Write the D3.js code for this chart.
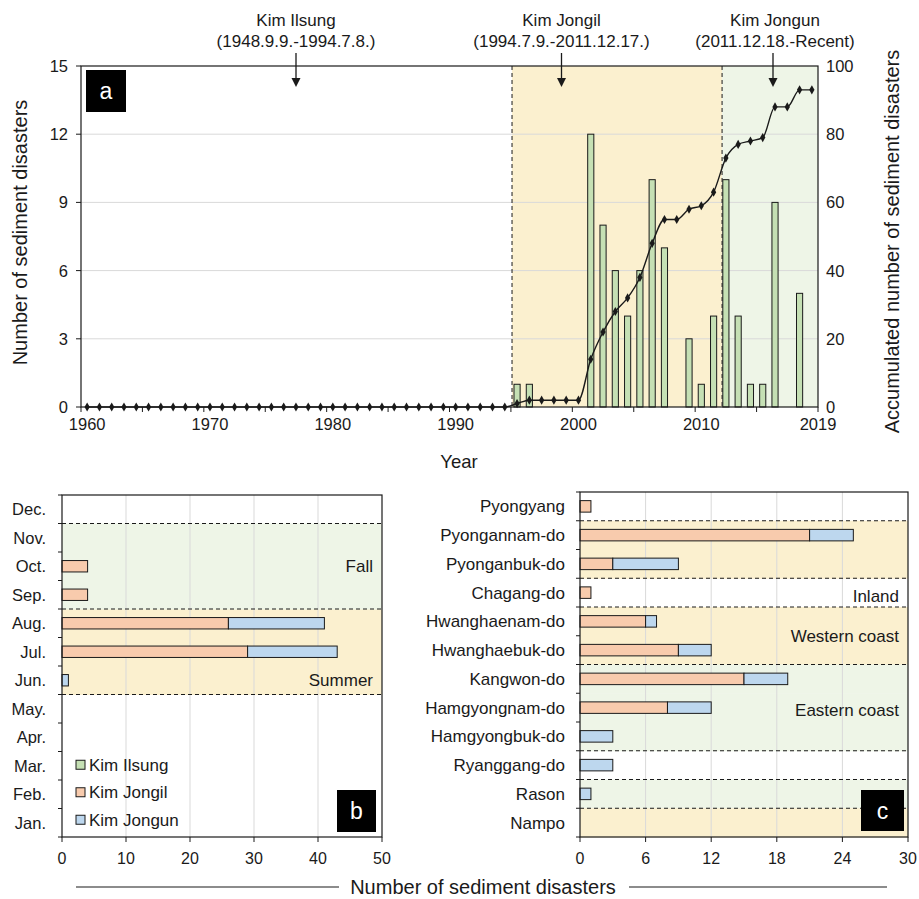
<!DOCTYPE html>
<html><head><meta charset="utf-8">
<script src="https://cdn.jsdelivr.net/npm/d3@7"></script>
<style>
body{margin:0;background:#fff;}
svg text{font-family:"Liberation Sans",Arial,sans-serif;fill:#1a1a1a;}
</style></head><body>
<svg id="chart" width="919" height="899"></svg>
<script>
// ---------- DATA ----------
const years = d3.range(1960, 2020);
const yearlyCounts = [0,0,0,0,0,0,0,0,0,0, 0,0,0,0,0,0,0,0,0,0, 0,0,0,0,0,0,0,0,0,0, 0,0,0,0,0,
  1,1,0,0,0,0,12,8,6,4,6,10,7,0,3,1,4,10,4,1,1,9,0,5,0];
const accumulated = [0,0,0,0,0,0,0,0,0,0, 0,0,0,0,0,0,0,0,0,0, 0,0,0,0,0,0,0,0,0,0, 0,0,0,0,0,
  1,2,2,2,2,2,14,22,28,32,38,48,55,55,58,59,63,73,77,78,79,88,88,93,93];
const yearTickLabels = [1960,1970,1980,1990,2000,2010,2019];
const leftTicks = [0,3,6,9,12,15];
const rightTicks = [0,20,40,60,80,100];
const regimes = ["Kim Ilsung","Kim Jongil","Kim Jongun"];
const regimePeriods = ["(1948.9.9.-1994.7.8.)","(1994.7.9.-2011.12.17.)","(2011.12.18.-Recent)"];
const regimeBounds = [1994.59, 2011.69];

const months = ["Jan.","Feb.","Mar.","Apr.","May.","Jun.","Jul.","Aug.","Sep.","Oct.","Nov.","Dec."];
const monthIlsung = [0,0,0,0,0,0,0,0,0,0,0,0];
const monthJongil = [0,0,0,0,0,0,29,26,4,4,0,0];
const monthJongun = [0,0,0,0,0,1,14,15,0,0,0,0];
const monthSeason = ["","","","","","Summer","Summer","Summer","Fall","Fall","Fall",""];
const monthTicks = [0,10,20,30,40,50];

const provinces = ["Pyongyang","Pyongannam-do","Pyonganbuk-do","Chagang-do","Hwanghaenam-do","Hwanghaebuk-do",
  "Kangwon-do","Hamgyongnam-do","Hamgyongbuk-do","Ryanggang-do","Rason","Nampo"];
const provJongil = [1,21,3,1,6,9,15,8,0,0,0,0];
const provJongun = [0,4,6,0,1,3,4,4,3,3,1,0];
const provRegion = ["City","Western","Western","Inland","Western","Western","Eastern","Eastern","Eastern","Inland2","Eastern","Western"];
const provTicks = [0,6,12,18,24,30];

// ---------- STYLE ----------
const C = {ilsung:"#c5e0b4", jongil:"#f8cbad", jongun:"#bdd7ee",
  yellow:"#fbf0cf", green:"#eef5e7", grid:"#d9d9d9", ink:"#1a1a1a"};
const svg = d3.select("#chart");

// ============ PANEL A ============
const A = {l:81, r:818, t:66, b:407};
const xA = d3.scaleBand().domain(years).range([A.l, A.r]);
const step = xA.step();
const xDate = v => A.l + (v - 1960 + 0.5) * step;
const yL = d3.scaleLinear().domain([0,15]).range([A.b, A.t]);
const yR = d3.scaleLinear().domain([0,100]).range([A.b, A.t]);

const gA = svg.append("g");
gA.append("rect").attr("x", xDate(regimeBounds[0])).attr("y", A.t)
  .attr("width", xDate(regimeBounds[1]) - xDate(regimeBounds[0])).attr("height", A.b - A.t).attr("fill", C.yellow);
gA.append("rect").attr("x", xDate(regimeBounds[1])).attr("y", A.t)
  .attr("width", A.r - xDate(regimeBounds[1])).attr("height", A.b - A.t).attr("fill", C.green);
gA.selectAll(".g").data(leftTicks.slice(1,-1)).join("line")
  .attr("x1", A.l).attr("x2", A.r).attr("y1", d => yL(d)).attr("y2", d => yL(d))
  .attr("stroke", C.grid).attr("stroke-width", 1);
gA.selectAll(".rb").data(regimeBounds).join("line")
  .attr("x1", d => xDate(d)).attr("x2", d => xDate(d)).attr("y1", A.t).attr("y2", A.b)
  .attr("stroke", C.ink).attr("stroke-width", 1).attr("stroke-dasharray", "4,3");
const bw = step * 0.5;
gA.selectAll(".bar").data(years.map((y,i)=>({y, v:yearlyCounts[i]})).filter(d=>d.v>0)).join("rect")
  .attr("x", d => xA(d.y) + (step - bw)/2).attr("width", bw)
  .attr("y", d => yL(d.v)).attr("height", d => A.b - yL(d.v))
  .attr("fill", C.ilsung).attr("stroke", C.ink).attr("stroke-width", 1);
const line = d3.line().x((d,i) => xA(years[i]) + step/2).y(d => yR(d)).curve(d3.curveMonotoneX);
gA.append("path").attr("d", line(accumulated)).attr("fill","none").attr("stroke", C.ink).attr("stroke-width", 1.4);
gA.selectAll(".pt").data(accumulated).join("path")
  .attr("d", d3.symbol().type(d3.symbolDiamond).size(24))
  .attr("transform", (d,i) => `translate(${xA(years[i]) + step/2},${yR(d)})`).attr("fill", C.ink);
gA.append("rect").attr("x", A.l).attr("y", A.t).attr("width", A.r - A.l).attr("height", A.b - A.t)
  .attr("fill","none").attr("stroke", C.ink).attr("stroke-width", 1.2);
leftTicks.forEach(t => {
  gA.append("line").attr("x1", A.l - 5).attr("x2", A.l).attr("y1", yL(t)).attr("y2", yL(t)).attr("stroke", C.ink);
  gA.append("text").attr("x", A.l - 13).attr("y", yL(t) + 6).attr("text-anchor","end").attr("font-size", 16.5).text(t);
});
rightTicks.forEach(t => {
  gA.append("text").attr("x", A.r + 8).attr("y", yR(t) + 6).attr("text-anchor","start").attr("font-size", 16.5).text(t);
});
d3.range(0, 61, 5).forEach(i => {
  const x = A.l + i * step;
  gA.append("line").attr("x1", x).attr("x2", x).attr("y1", A.b).attr("y2", A.b + 5).attr("stroke", C.ink);
});
yearTickLabels.forEach((y, i) => {
  const x = i === yearTickLabels.length - 1 ? A.r : xA(y) + step/2;
  gA.append("text").attr("x", x).attr("y", A.b + 23).attr("text-anchor","middle").attr("font-size", 16.5).text(y);
});
gA.append("text").attr("x", 459).attr("y", 468).attr("text-anchor","middle").attr("font-size", 18.5).text("Year");
gA.append("text").attr("transform", `translate(27,${(A.t+A.b)/2 - 4}) rotate(-90)`).attr("text-anchor","middle")
  .attr("font-size", 20).text("Number of sediment disasters");
gA.append("text").attr("transform", `translate(899,${(A.t+A.b)/2 + 5}) rotate(-90)`).attr("text-anchor","middle")
  .attr("font-size", 20).text("Accumulated number of sediment disasters");
const arrowX = [296, 561.5, 773];
const labelX = [296, 561.5, 775];
regimes.forEach((r,i) => {
  gA.append("text").attr("x", labelX[i]).attr("y", 26).attr("text-anchor","middle")
    .attr("font-size", 17).text(r);
  gA.append("text").attr("x", labelX[i]).attr("y", 47).attr("text-anchor","middle")
    .attr("font-size", 17).text(regimePeriods[i]);
  gA.append("line").attr("x1", arrowX[i]).attr("x2", arrowX[i]).attr("y1", 53).attr("y2", 80).attr("stroke", C.ink).attr("stroke-width", 1.3);
  gA.append("path").attr("d", `M${arrowX[i]-4.5},${78} L${arrowX[i]+4.5},${78} L${arrowX[i]},${87} Z`).attr("fill", C.ink);
});
function panelLabel(g, x, y, w, h, t) {
  g.append("rect").attr("x", x).attr("y", y).attr("width", w).attr("height", h).attr("fill", "#000");
  g.append("text").attr("x", x + w/2).attr("y", y + h/2 + 8).attr("text-anchor","middle")
    .attr("font-size", 23).style("fill","#fff").text(t);
}
panelLabel(gA, 86, 70, 40, 42, "a");

// ============ PANEL B ============
const B = {l:62, r:382, t:495, b:837};
const monthsTop = months.slice().reverse();
const yB = d3.scaleBand().domain(monthsTop).range([B.t, B.b]);
const xB = d3.scaleLinear().domain([0,50]).range([B.l, B.r]);
const gB = svg.append("g");
months.forEach((m,i) => {
  const s = monthSeason[i];
  if (!s) return;
  gB.append("rect").attr("x", B.l).attr("y", yB(m)).attr("width", B.r - B.l).attr("height", yB.step() + 0.5)
    .attr("fill", s === "Summer" ? C.yellow : C.green);
});
gB.selectAll(".g").data(monthTicks.slice(1,-1)).join("line")
  .attr("x1", d => xB(d)).attr("x2", d => xB(d)).attr("y1", B.t).attr("y2", B.b).attr("stroke", C.grid);
for (let i = 1; i < months.length; i++) {
  if (monthSeason[i] !== monthSeason[i-1]) {
    const y = yB(months[i-1]);
    gB.append("line").attr("x1", B.l).attr("x2", B.r).attr("y1", y).attr("y2", y)
      .attr("stroke", C.ink).attr("stroke-dasharray","4,3");
  }
}
const bhB = yB.bandwidth() * 0.4;
months.forEach((m,i) => {
  let x0 = 0;
  [[monthIlsung[i], C.ilsung],[monthJongil[i], C.jongil],[monthJongun[i], C.jongun]].forEach(([v,c]) => {
    if (v > 0) {
      gB.append("rect").attr("x", xB(x0)).attr("width", xB(x0+v) - xB(x0))
        .attr("y", yB(m) + (yB.bandwidth() - bhB)/2).attr("height", bhB)
        .attr("fill", c).attr("stroke", C.ink).attr("stroke-width", 1);
      x0 += v;
    }
  });
});
gB.append("rect").attr("x", B.l).attr("y", B.t).attr("width", B.r - B.l).attr("height", B.b - B.t)
  .attr("fill","none").attr("stroke", C.ink).attr("stroke-width", 1.2);
d3.range(0, 13).forEach(i => {
  const y = B.t + i * yB.step();
  gB.append("line").attr("x1", B.l - 4).attr("x2", B.l).attr("y1", y).attr("y2", y).attr("stroke", C.ink);
});
monthsTop.forEach(m => {
  gB.append("text").attr("x", 46).attr("y", yB(m) + yB.bandwidth()/2 + 6).attr("text-anchor","end")
    .attr("font-size", 16.5).text(m);
});
monthTicks.forEach(t => {
  gB.append("line").attr("x1", xB(t)).attr("x2", xB(t)).attr("y1", B.b).attr("y2", B.b + 5).attr("stroke", C.ink);
  gB.append("text").attr("x", xB(t)).attr("y", B.b + 27).attr("text-anchor","middle").attr("font-size", 16).text(t);
});
gB.append("text").attr("x", 373).attr("y", yB("Oct.") + yB.bandwidth()/2 + 6).attr("text-anchor","end").attr("font-size", 17).text("Fall");
gB.append("text").attr("x", 373).attr("y", yB("Jun.") + yB.bandwidth()/2 + 6).attr("text-anchor","end").attr("font-size", 17).text("Summer");
const legendItems = [["Kim Ilsung", C.ilsung],["Kim Jongil", C.jongil],["Kim Jongun", C.jongun]];
legendItems.forEach(([n,c],i) => {
  const y = yB("Mar.") + yB.bandwidth()/2 + i * 27.5 - 1;
  gB.append("rect").attr("x", 76).attr("y", y - 4.5).attr("width", 9).attr("height", 9)
    .attr("fill", c).attr("stroke", C.ink).attr("stroke-width", 1);
  gB.append("text").attr("x", 89).attr("y", y + 6).attr("font-size", 17).text(n);
});
panelLabel(gB, 337, 790, 39, 42, "b");

// ============ PANEL C ============
const P = {l:580, r:908, t:492, b:837};
const yC = d3.scaleBand().domain(provinces).range([P.t, P.b]);
const xC = d3.scaleLinear().domain([0,30]).range([P.l, P.r]);
const gC = svg.append("g");
const regionFill = {Western: C.yellow, Eastern: C.green};
provinces.forEach((p,i) => {
  const f = regionFill[provRegion[i]];
  if (f) gC.append("rect").attr("x", P.l).attr("y", yC(p)).attr("width", P.r - P.l).attr("height", yC.step() + 0.5).attr("fill", f);
});
gC.selectAll(".g").data(provTicks.slice(1,-1)).join("line")
  .attr("x1", d => xC(d)).attr("x2", d => xC(d)).attr("y1", P.t).attr("y2", P.b).attr("stroke", C.grid);
for (let i = 1; i < provinces.length; i++) {
  if (provRegion[i] !== provRegion[i-1]) {
    const y = yC(provinces[i]);
    gC.append("line").attr("x1", P.l).attr("x2", P.r).attr("y1", y).attr("y2", y)
      .attr("stroke", C.ink).attr("stroke-dasharray","4,3");
  }
}
const bhC = yC.bandwidth() * 0.4;
provinces.forEach((p,i) => {
  let x0 = 0;
  [[provJongil[i], C.jongil],[provJongun[i], C.jongun]].forEach(([v,c]) => {
    if (v > 0) {
      gC.append("rect").attr("x", xC(x0)).attr("width", xC(x0+v) - xC(x0))
        .attr("y", yC(p) + (yC.bandwidth() - bhC)/2).attr("height", bhC)
        .attr("fill", c).attr("stroke", C.ink).attr("stroke-width", 1);
      x0 += v;
    }
  });
});
gC.append("rect").attr("x", P.l).attr("y", P.t).attr("width", P.r - P.l).attr("height", P.b - P.t)
  .attr("fill","none").attr("stroke", C.ink).attr("stroke-width", 1.2);
d3.range(0, 13).forEach(i => {
  const y = P.t + i * yC.step();
  gC.append("line").attr("x1", P.l - 4).attr("x2", P.l).attr("y1", y).attr("y2", y).attr("stroke", C.ink);
});
provinces.forEach(p => {
  gC.append("text").attr("x", 565).attr("y", yC(p) + yC.bandwidth()/2 + 6).attr("text-anchor","end")
    .attr("font-size", 17).text(p);
});
provTicks.forEach(t => {
  gC.append("line").attr("x1", xC(t)).attr("x2", xC(t)).attr("y1", P.b).attr("y2", P.b + 5).attr("stroke", C.ink);
  gC.append("text").attr("x", xC(t)).attr("y", P.b + 27).attr("text-anchor","middle").attr("font-size", 16).text(t);
});
const cy = p => yC(p) + yC.bandwidth()/2 + 6;
gC.append("text").attr("x", 899).attr("y", cy("Chagang-do") + 3).attr("text-anchor","end").attr("font-size", 17).text("Inland");
gC.append("text").attr("x", 899).attr("y", (cy("Hwanghaenam-do") + cy("Hwanghaebuk-do"))/2).attr("text-anchor","end").attr("font-size", 17).text("Western coast");
gC.append("text").attr("x", 899).attr("y", cy("Hamgyongnam-do") + 2).attr("text-anchor","end").attr("font-size", 17).text("Eastern coast");
panelLabel(gC, 861, 790, 43, 41, "c");

const gT = svg.append("g");
gT.append("line").attr("x1", 76).attr("x2", 339).attr("y1", 887).attr("y2", 887).attr("stroke", C.ink).attr("stroke-width", 1.2);
gT.append("line").attr("x1", 629).attr("x2", 887).attr("y1", 887).attr("y2", 887).attr("stroke", C.ink).attr("stroke-width", 1.2);
gT.append("text").attr("x", 483).attr("y", 894).attr("text-anchor","middle").attr("font-size", 20).text("Number of sediment disasters");
</script>
</body></html>
